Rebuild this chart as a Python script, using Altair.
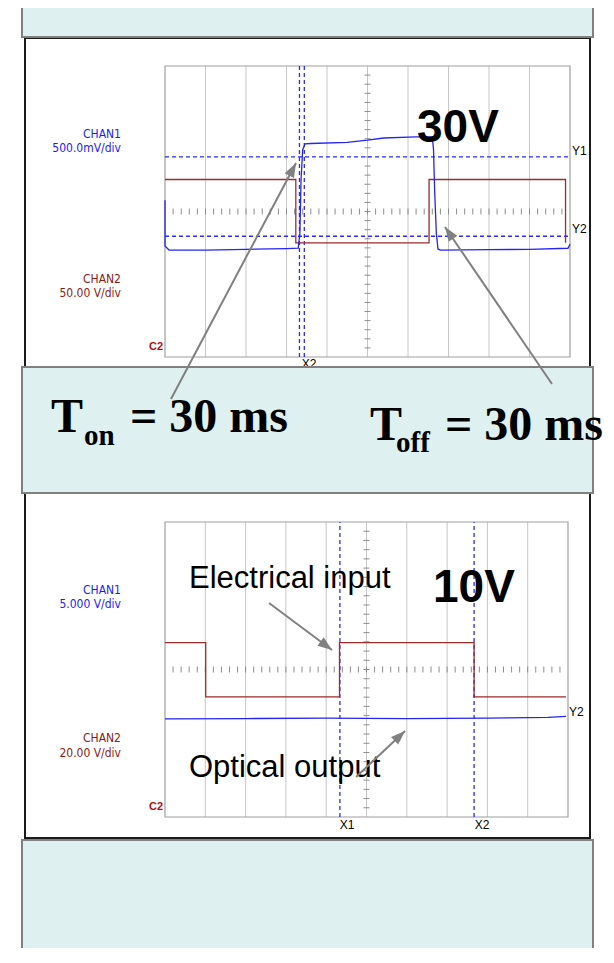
import math
import altair as alt
import pandas as pd

# ---------------- data ----------------
# Scope 1 (30 V drive): time in divisions (0-10), level in divisions (0-8, from bottom)
s1_chan1_t = [0.00, 0.00, 0.10, 1.00, 2.00, 3.00, 3.29, 3.33, 3.36, 3.40, 3.46, 3.60, 4.50,
              5.00, 5.40, 6.20, 6.60, 6.63, 6.66, 6.70, 6.74, 6.80, 8.00, 9.00, 9.95, 10.0]
s1_chan1_v = [4.31, 3.05, 2.94, 2.94, 2.96, 2.98, 2.99, 3.40, 4.90, 5.70, 5.86, 5.87, 5.90,
              5.96, 6.02, 6.05, 6.05, 5.70, 4.50, 3.40, 2.97, 2.94, 2.95, 2.96, 2.99, 3.10]
s1_chan2_t = [0.00, 3.23, 3.23, 6.52, 6.52, 9.89, 9.89]
s1_chan2_v = [4.88, 4.88, 3.14, 3.14, 4.88, 4.88, 3.14]
s1_xcursors = [3.32, 3.44]
s1_ycursors = [5.50, 3.32]

# Scope 2 (10 V drive)
s2_chan2_t = [0.00, 1.01, 1.01, 4.33, 4.33, 7.67, 7.67, 9.95]
s2_chan2_v = [4.73, 4.73, 3.26, 3.26, 4.73, 4.73, 3.26, 3.26]
s2_chan1_t = [0.00, 2.00, 4.00, 6.00, 8.00, 9.50, 9.95]
s2_chan1_v = [2.66, 2.67, 2.68, 2.67, 2.68, 2.70, 2.73]
s2_xcursors = [4.34, 7.67]
s2_ycursors = []

# texts
s1_chan1_lbl = ["CHAN1", "500.0mV/div"]
s1_chan2_lbl = ["CHAN2", "50.00 V/div"]
s2_chan1_lbl = ["CHAN1", "5.000 V/div"]
s2_chan2_lbl = ["CHAN2", "20.00 V/div"]
drive_lbl = ["30V", "10V"]
annot_lbl = ["Electrical input", "Optical output"]
time_main = ["T", "= 30 ms", "T", "= 30 ms"]
time_sub = ["on", "off"]

# ---------------- layout (page pixels) ----------------
W, H = 598, 940
OX, OY = 8, 8
G1 = dict(left=165, right=570, top=66, bottom=357)
G2 = dict(left=165, right=568, top=522, bottom=817)

RED = "#9e2b2b"
BLUE = "#2424f5"
LBLUE = "#1a1aff"
LRED = "#8b1a1a"
CYAN = "#dff0f0"
ARROW = "#808080"
SANS = "Liberation Sans, Arial, sans-serif"
NARROW = "Liberation Sans Narrow, Arial Narrow, DejaVu Sans Condensed, sans-serif"
SERIF = "Liberation Serif, Times New Roman, serif"


def fenc(x="x", y="y"):
    return dict(
        x=alt.X(f"{x}:Q", scale=alt.Scale(domain=[OX, OX + W], range=[0, W]), axis=None),
        y=alt.Y(f"{y}:Q", scale=alt.Scale(domain=[OY, OY + H], range=[0, H]), axis=None),
    )


def text_layer(rows, **mark):
    df = pd.DataFrame(rows, columns=["x", "y", "text"])
    return alt.Chart(df).mark_text(**mark).encode(**fenc(), text="text:N")


def scope_layers(g, c1t, c1v, c2t, c2v, xcur, ycur):
    def X(f):
        return alt.X(f"{f}:Q", scale=alt.Scale(domain=[0, 10], range=[g["left"] - OX, g["right"] - OX]), axis=None)

    def Y(f):
        return alt.Y(f"{f}:Q", scale=alt.Scale(domain=[0, 8], range=[g["bottom"] - OY, g["top"] - OY]), axis=None)

    out = []
    grid = pd.DataFrame({"t": list(range(1, 10)), "a": 0, "b": 8})
    out.append(alt.Chart(grid).mark_rule(color="#c6c6c6", strokeWidth=1).encode(x=X("t"), y=Y("a"), y2="b:Q"))
    border = pd.DataFrame({"a": [0], "b": [10], "c": [0], "d": [8]})
    out.append(alt.Chart(border).mark_rect(fillOpacity=0, stroke="#a0a0a0", strokeWidth=1.2)
               .encode(x=X("a"), x2="b:Q", y=Y("c"), y2="d:Q"))
    hticks = pd.DataFrame({"t": [i * 0.2 for i in range(1, 50)], "v": 4})
    out.append(alt.Chart(hticks).mark_tick(orient="vertical", size=6, thickness=1, color="#8c8c8c", opacity=1)
               .encode(x=X("t"), y=Y("v")))
    vticks = pd.DataFrame({"t": 5, "v": [j * 0.25 for j in range(1, 32)]})
    out.append(alt.Chart(vticks).mark_tick(orient="horizontal", size=6, thickness=1, color="#8c8c8c", opacity=1)
               .encode(x=X("t"), y=Y("v")))
    xc = pd.DataFrame({"t": xcur, "a": 0, "b": 8})
    out.append(alt.Chart(xc).mark_rule(color="#2b2bff", strokeDash=[4, 3], strokeWidth=1.3)
               .encode(x=X("t"), y=Y("a"), y2="b:Q"))
    if ycur:
        yc = pd.DataFrame({"v": ycur, "a": 0, "b": 10})
        out.append(alt.Chart(yc).mark_rule(color="#2b2bff", strokeDash=[4, 3], strokeWidth=1.3)
                   .encode(y=Y("v"), x=X("a"), x2="b:Q"))
    for t, v, col in [(c2t, c2v, RED), (c1t, c1v, BLUE)]:
        df = pd.DataFrame({"t": t, "v": v, "i": list(range(len(t)))})
        out.append(alt.Chart(df).mark_line(color=col, strokeWidth=1.3)
                   .encode(x=X("t"), y=Y("v"), order="i:Q"))
    return out


layers = []

# scope frames
frames = pd.DataFrame({"x": [25, 25], "x2": [590, 590], "y": [38, 482], "y2": [380, 838]})
layers.append(alt.Chart(frames).mark_rect(fill="white", stroke="#1a1a1a", strokeWidth=2)
              .encode(**fenc(), x2="x2:Q", y2="y2:Q"))

layers += scope_layers(G1, s1_chan1_t, s1_chan1_v, s1_chan2_t, s1_chan2_v, s1_xcursors, s1_ycursors)
layers += scope_layers(G2, s2_chan1_t, s2_chan1_v, s2_chan2_t, s2_chan2_v, s2_xcursors, s2_ycursors)

# channel labels
layers.append(text_layer([(121, 134, s1_chan1_lbl[0]), (121, 148, s1_chan1_lbl[1]),
                          (121, 590, s2_chan1_lbl[0]), (121, 604, s2_chan1_lbl[1])],
                         font=NARROW, fontSize=12, color=LBLUE, align="right", baseline="middle"))
layers.append(text_layer([(121, 279, s1_chan2_lbl[0]), (121, 293, s1_chan2_lbl[1]),
                          (121, 738, s2_chan2_lbl[0]), (121, 753, s2_chan2_lbl[1])],
                         font=NARROW, fontSize=12, color=LRED, align="right", baseline="middle"))
# cursor labels
layers.append(text_layer([(572, 151, "Y1"), (572, 229, "Y2"), (569, 712, "Y2")],
                         font=SANS, fontSize=12, color="black", align="left", baseline="middle"))
layers.append(text_layer([(309, 364, "X2"), (347, 825, "X1"), (482, 825, "X2")],
                         font=SANS, fontSize=12, color="black", align="center", baseline="middle"))
layers.append(text_layer([(156, 347, "C2"), (156, 807, "C2")],
                         font=SANS, fontSize=11, fontWeight="bold", color="#b01010", align="center",
                         baseline="middle"))

# light cyan panels
panels = pd.DataFrame({"x": [22, 22, 22], "x2": [593, 593, 593], "y": [5, 367, 840], "y2": [37, 493, 975]})
layers.append(alt.Chart(panels).mark_rect(fill=CYAN, stroke="#808080", strokeWidth=2)
              .encode(**fenc(), x2="x2:Q", y2="y2:Q"))

# big drive-voltage labels and annotations
layers.append(text_layer([(417, 142, drive_lbl[0]), (433, 602, drive_lbl[1])],
                         font=SANS, fontSize=46, fontWeight="bold", color="black", align="left",
                         baseline="alphabetic"))
layers.append(text_layer([(189, 588, annot_lbl[0]), (189, 777, annot_lbl[1])],
                         font=SANS, fontSize=31, color="black", align="left", baseline="alphabetic"))

# arrows
arrows = [(171, 399, 296, 163), (552, 384, 445, 227), (269, 603, 332, 650), (356, 777, 405, 731)]
adf = pd.DataFrame(arrows, columns=["x", "y", "x2", "y2"])
adf["ang"] = [(math.degrees(math.atan2(x2 - x1, -(y2 - y1))) + 360) % 360 for x1, y1, x2, y2 in arrows]
layers.append(alt.Chart(adf).mark_rule(color=ARROW, strokeWidth=2)
              .encode(**fenc(), x2="x2:Q", y2="y2:Q"))
layers.append(alt.Chart(adf).mark_point(shape="M0,0L0.7,1.9L-0.7,1.9Z", filled=True, size=225,
                                        color=ARROW, opacity=1, strokeWidth=0)
              .encode(**fenc("x2", "y2"), angle=alt.Angle("ang:Q", scale=None)))

# T_on / T_off
layers.append(text_layer([(51, 432, time_main[0]), (130, 432, time_main[1]),
                          (370, 440, time_main[2]), (445, 440, time_main[3])],
                         font=SERIF, fontSize=48, fontWeight="bold", color="black", align="left",
                         baseline="alphabetic"))
layers.append(text_layer([(84, 445, time_sub[0]), (396, 452, time_sub[1])],
                         font=SERIF, fontSize=29, fontWeight="bold", color="black", align="left",
                         baseline="alphabetic"))

chart = (
    alt.layer(*layers)
    .resolve_scale(x="independent", y="independent")
    .properties(width=W, height=H, padding=0, autosize=alt.AutoSizeParams(type="none"))
    .configure_view(stroke=None)
)

chart.save("out.html", embed_options={"renderer": "svg", "actions": False})
